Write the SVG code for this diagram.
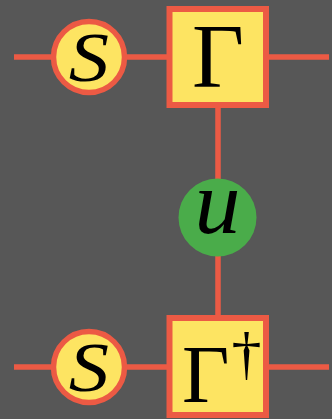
<svg xmlns="http://www.w3.org/2000/svg" width="332" height="419" viewBox="0 0 332 419">
<style>
.wire{stroke:#ec5a44;stroke-width:5.5;fill:none}
.sc{fill:#fde462;stroke:#ec5a44;stroke-width:5.5}
.box{fill:#fde462;stroke:#ec5a44;stroke-width:6}
.lbl{font-family:"Liberation Serif","DejaVu Serif",serif;fill:#000}
</style>
<rect width="332" height="419" fill="#575757"/>
<g id="connectors">
<line class="wire" x1="14" y1="57" x2="329" y2="57"/>
<line class="wire" x1="14" y1="367" x2="329" y2="367"/>
<line class="wire" x1="218" y1="105" x2="218" y2="318"/>
</g>
<g id="S1">
<circle class="sc" cx="89" cy="57" r="35.5"/>
<text class="lbl" transform="translate(89,81) scale(1.15,1)" font-size="70" font-style="italic" text-anchor="middle">S</text>
</g>
<g id="Gamma">
<rect class="box" x="169.5" y="9" width="96.5" height="96"/>
<text class="lbl" x="218" y="87" font-size="90" text-anchor="middle">Γ</text>
</g>
<g id="u">
<circle cx="217.5" cy="217.5" r="39" fill="#4aac4a"/>
<text class="lbl" x="217.5" y="233" font-size="92" font-style="italic" text-anchor="middle">u</text>
</g>
<g id="S2">
<circle class="sc" cx="89" cy="367" r="35.5"/>
<text class="lbl" transform="translate(89,391) scale(1.15,1)" font-size="70" font-style="italic" text-anchor="middle">S</text>
</g>
<g id="GammaDagger">
<rect class="box" x="169.5" y="318" width="96.5" height="97"/>
<text class="lbl" x="182" y="402" font-size="82">Γ</text>
<text class="lbl" x="246.5" y="373" font-size="60" text-anchor="middle">†</text>
</g>
</svg>
